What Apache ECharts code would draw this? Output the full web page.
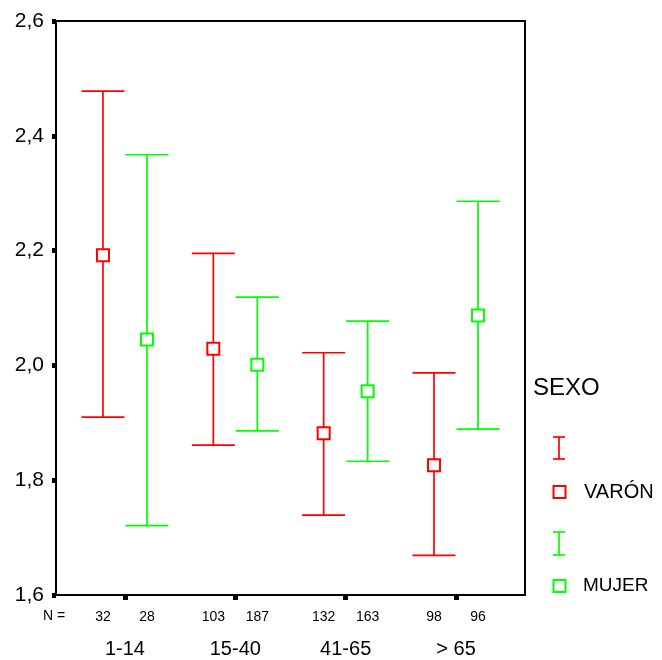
<!DOCTYPE html>
<html>
<head>
<meta charset="utf-8">
<script src="https://cdn.jsdelivr.net/npm/echarts@6/dist/echarts.min.js"></script>
<style>
html,body{margin:0;padding:0;background:#fff;}
#chart{width:662px;height:660px;}
</style>
</head>
<body>
<div id="chart"></div>
<script>
const categories = ['1-14', '15-40', '41-65', '> 65'];
const varonMean = [2.192, 2.029, 1.882, 1.826];
const varonLow  = [1.910, 1.861, 1.739, 1.669];
const varonHigh = [2.478, 2.195, 2.022, 1.987];
const varonN    = [32, 103, 132, 98];
const mujerMean = [2.045, 2.001, 1.955, 2.087];
const mujerLow  = [1.721, 1.886, 1.833, 1.889];
const mujerHigh = [2.367, 2.119, 2.077, 2.286];
const mujerN    = [28, 187, 163, 96];
const yMin = 1.6, yMax = 2.6, yStep = 0.2;

const FONT = '"Liberation Sans", Arial, sans-serif';
const RED = '#ff0000', GREEN = '#00ff00';

function buildData(mean, low, high, n) {
  return categories.map((c, i) => [i + 1, low[i], mean[i], high[i], n[i]]);
}

function makeRender(color, offset) {
  return function (params, api) {
    const x = api.value(0);
    const pLow = api.coord([x, api.value(1)]);
    const pMean = api.coord([x, api.value(2)]);
    const pHigh = api.coord([x, api.value(3)]);
    const pBase = api.coord([x, yMin]);
    const cx = pMean[0] + offset;
    const cap = 21.5, half = 6;
    const ls = { stroke: color, lineWidth: 1.7 };
    return {
      type: 'group',
      children: [
        { type: 'line', shape: { x1: cx, y1: pHigh[1], x2: cx, y2: pLow[1] }, style: ls },
        { type: 'line', shape: { x1: cx - cap, y1: pHigh[1], x2: cx + cap, y2: pHigh[1] }, style: ls },
        { type: 'line', shape: { x1: cx - cap, y1: pLow[1], x2: cx + cap, y2: pLow[1] }, style: ls },
        { type: 'rect', shape: { x: cx - half, y: pMean[1] - half, width: half * 2, height: half * 2 },
          style: { fill: '#fff', stroke: color, lineWidth: 2 } },
        { type: 'text', x: cx, y: pBase[1] + 22,
          style: { text: String(api.value(4)), fill: '#000', font: '14px ' + FONT, align: 'center', verticalAlign: 'middle' } }
      ]
    };
  };
}

const chart = echarts.init(document.getElementById('chart'), null, { renderer: 'canvas' });
chart.setOption({
  backgroundColor: '#fff',
  animation: false,
  grid: { left: 56, right: 137, top: 21, bottom: 65, show: true, borderColor: '#000', borderWidth: 2, backgroundColor: 'transparent' },
  xAxis: {
    type: 'value', min: 0.375, max: 4.625,
    splitLine: { show: false },
    axisLine: { show: false },
    axisTick: { show: true, customValues: [1, 2, 3, 4], length: 5, lineStyle: { color: '#000', width: 5 } },
    axisLabel: { customValues: [1, 2, 3, 4], margin: 44, color: '#000', fontSize: 20, fontFamily: FONT,
      formatter: v => categories[Math.round(v) - 1] || '' }
  },
  yAxis: {
    type: 'value', min: yMin, max: yMax, interval: yStep,
    splitLine: { show: false },
    axisLine: { show: false },
    axisTick: { show: true, length: 4, lineStyle: { color: '#000', width: 5 } },
    axisLabel: { margin: 12, color: '#000', fontSize: 21, fontFamily: FONT,
      formatter: v => v.toFixed(1).replace('.', ',') }
  },
  series: [
    { type: 'custom', name: 'VARÓN', renderItem: makeRender(RED, -22), data: buildData(varonMean, varonLow, varonHigh, varonN), clip: false, z: 3 },
    { type: 'custom', name: 'MUJER', renderItem: makeRender(GREEN, 22), data: buildData(mujerMean, mujerLow, mujerHigh, mujerN), clip: false, z: 3 }
  ],
  graphic: [
    { type: 'text', left: 43, top: 609, style: { text: 'N =', fill: '#000', font: '14px ' + FONT } },
    { type: 'text', x: 533, y: 388, style: { text: 'SEXO', fill: '#000', font: '24px ' + FONT, verticalAlign: 'middle' } },
    { type: 'group', children: [
      { type: 'line', shape: { x1: 559, y1: 437, x2: 559, y2: 459 }, style: { stroke: RED, lineWidth: 1.7 } },
      { type: 'line', shape: { x1: 553, y1: 437, x2: 565, y2: 437 }, style: { stroke: RED, lineWidth: 1.7 } },
      { type: 'line', shape: { x1: 553, y1: 459, x2: 565, y2: 459 }, style: { stroke: RED, lineWidth: 1.7 } },
      { type: 'rect', shape: { x: 553.5, y: 486, width: 12, height: 12 }, style: { fill: '#fff', stroke: RED, lineWidth: 2 } },
      { type: 'text', x: 584, y: 492, style: { text: 'VARÓN', fill: '#000', font: '20px ' + FONT, verticalAlign: 'middle' } },
      { type: 'line', shape: { x1: 559, y1: 532, x2: 559, y2: 555 }, style: { stroke: GREEN, lineWidth: 1.7 } },
      { type: 'line', shape: { x1: 553, y1: 532, x2: 565, y2: 532 }, style: { stroke: GREEN, lineWidth: 1.7 } },
      { type: 'line', shape: { x1: 553, y1: 555, x2: 565, y2: 555 }, style: { stroke: GREEN, lineWidth: 1.7 } },
      { type: 'rect', shape: { x: 553.5, y: 580, width: 12, height: 12 }, style: { fill: '#fff', stroke: GREEN, lineWidth: 2 } },
      { type: 'text', x: 583, y: 586, style: { text: 'MUJER', fill: '#000', font: '19px ' + FONT, verticalAlign: 'middle' } }
    ] }
  ]
});
</script>
</body>
</html>
